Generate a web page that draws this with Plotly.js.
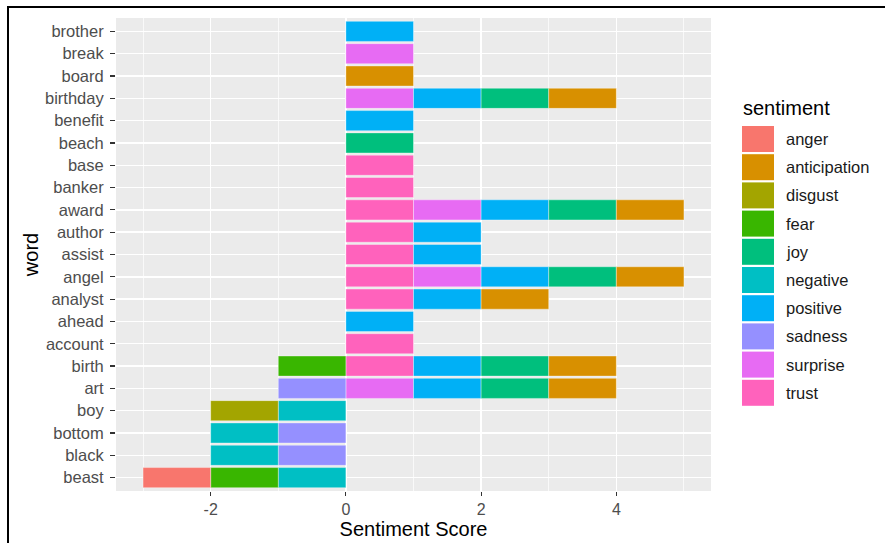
<!DOCTYPE html>
<html>
<head>
<meta charset="utf-8">
<script src="https://cdn.plot.ly/plotly-3.0.1.min.js"></script>
<style>
  html, body { margin: 0; padding: 0; background: #fff; overflow: hidden; }
  #wrap { position: relative; width: 885px; height: 543px; overflow: hidden; }
  #chart { position: absolute; left: 0; top: 0; width: 885px; height: 543px; }
  #frame { position: absolute; left: 7px; top: 6px; width: 900px; height: 600px;
           border: 2px solid #000; pointer-events: none; box-sizing: border-box; }
</style>
</head>
<body>
<div id="wrap">
  <div id="chart"></div>
  <div id="frame"></div>
</div>
<script>
// Words, top to bottom as drawn
const words = ["brother","break","board","birthday","benefit","beach","base","banker",
  "award","author","assist","angel","analyst","ahead","account","birth","art",
  "boy","bottom","black","beast"];

// Sentiment categories (legend order) and colours
const sentiments = ["anger","anticipation","disgust","fear","joy","negative",
  "positive","sadness","surprise","trust"];
const colors = ["#F8766D","#D89000","#A3A500","#39B600","#00BF7D","#00BFC4",
  "#00B0F6","#9590FF","#E76BF3","#FF62BC"];

// x-axis tick labels (ASCII hyphen as in the reference)
const xTickVals = [-2, 0, 2, 4];
const xTickText = ["-2", "0", "2", "4"];

// Words carrying each sentiment, and the score each contributes
const angerWords = ["beast"];              const angerScore = -1;
const anticipationWords = ["board","birthday","award","angel","analyst","birth","art"]; const anticipationScore = 1;
const disgustWords = ["boy"];              const disgustScore = -1;
const fearWords = ["birth","beast"];       const fearScore = -1;
const joyWords = ["birthday","beach","award","angel","birth","art"]; const joyScore = 1;
const negativeWords = ["boy","bottom","black","beast"]; const negativeScore = -1;
const positiveWords = ["brother","birthday","benefit","award","author","assist","angel",
  "analyst","ahead","birth","art"];        const positiveScore = 1;
const sadnessWords = ["art","bottom","black"]; const sadnessScore = -1;
const surpriseWords = ["break","birthday","award","angel","art"]; const surpriseScore = 1;
const trustWords = ["base","banker","award","author","assist","angel","analyst",
  "account","birth"];                      const trustScore = 1;

const sentimentWords = {
  anger: [angerWords, angerScore], anticipation: [anticipationWords, anticipationScore],
  disgust: [disgustWords, disgustScore], fear: [fearWords, fearScore],
  joy: [joyWords, joyScore], negative: [negativeWords, negativeScore],
  positive: [positiveWords, positiveScore], sadness: [sadnessWords, sadnessScore],
  surprise: [surpriseWords, surpriseScore], trust: [trustWords, trustScore]
};

// Stacking: later-alphabet sentiments sit nearest zero (first traces stack first)
const traces = [];
for (let i = sentiments.length - 1; i >= 0; i--) {
  const s = sentiments[i];
  const [ws, sc] = sentimentWords[s];
  traces.push({
    type: "bar", orientation: "h", name: s,
    y: ws, x: ws.map(() => sc),
    width: 0.9,
    marker: { color: colors[i], line: { color: "rgba(255,255,255,0.6)", width: 0.6 } },
    hoverinfo: "x+y+name", showlegend: false
  });
}

// Plot area in pixels
const W = 885, H = 543, L = 116, R = 711, T = 18, B = 491;
const px = x => (x - L) / (R - L);
const py = y => (B - y) / (B - T);
const FONT = "Liberation Sans, Arial, sans-serif";

// Custom ggplot-like legend (keys + labels)
const shapes = [], annotations = [];
annotations.push({
  xref: "paper", yref: "paper", x: px(741), y: py(108), xanchor: "left", yanchor: "middle",
  text: "sentiment", showarrow: false, font: { family: FONT, size: 20, color: "#000" }
});
sentiments.forEach((s, i) => {
  const top = 126 + 28.2 * i;
  shapes.push({
    type: "rect", xref: "paper", yref: "paper",
    x0: px(742), x1: px(774), y0: py(top + 26), y1: py(top),
    fillcolor: colors[i], line: { width: 0 }
  });
  annotations.push({
    xref: "paper", yref: "paper", x: px(784), y: py(top + 13), xanchor: "left", yanchor: "middle",
    text: s, showarrow: false, font: { family: FONT, size: 16.5, color: "#1A1A1A" }
  });
});

const layout = {
  width: W, height: H,
  margin: { l: L, r: W - R, t: T, b: H - B, pad: 0 },
  paper_bgcolor: "#FFFFFF", plot_bgcolor: "#EBEBEB",
  barmode: "relative", bargap: 0.1,
  showlegend: false,
  font: { family: FONT, color: "#4D4D4D" },
  xaxis: {
    range: [-3.4, 5.4], tickmode: "array", tickvals: xTickVals, ticktext: xTickText,
    zeroline: false,
    showgrid: true, gridcolor: "#FFFFFF", gridwidth: 1.4,
    minor: { dtick: 1, tick0: 0, showgrid: true, gridcolor: "#FFFFFF", gridwidth: 0.7 },
    ticks: "outside", ticklen: 4, tickcolor: "#333333", tickwidth: 1.2,
    tickfont: { size: 16, color: "#4D4D4D" },
    showline: false, automargin: false,
    title: { text: "Sentiment Score", font: { size: 20, color: "#000" }, standoff: 0 }
  },
  yaxis: {
    type: "category", categoryorder: "array", categoryarray: words.slice().reverse(),
    range: [-0.6, words.length - 0.4],
    showgrid: true, gridcolor: "#FFFFFF", gridwidth: 1.4, zeroline: false,
    ticks: "outside", ticklen: 5, tickcolor: "#333333", tickwidth: 1.2,
    ticklabelstandoff: 3,
    tickfont: { size: 16.5, color: "#4D4D4D" },
    showline: false, automargin: false,
    title: { text: "word", font: { size: 20, color: "#000" }, standoff: 0 }
  },
  shapes: shapes,
  annotations: annotations
};

Plotly.newPlot("chart", traces, layout, { displayModeBar: false, staticPlot: true });
</script>
</body>
</html>
